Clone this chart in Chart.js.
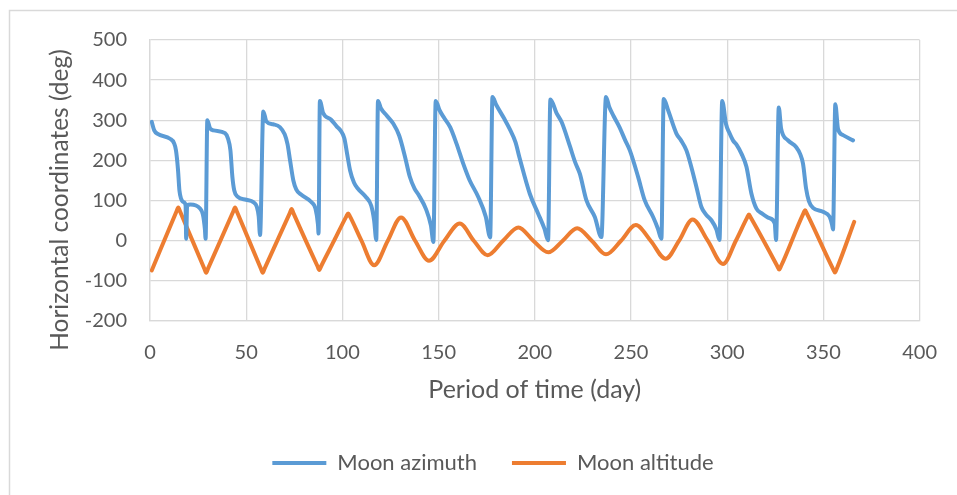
<!DOCTYPE html>
<html>
<head>
<meta charset="utf-8">
<script src="https://cdn.jsdelivr.net/npm/chart.js@4.4.1/dist/chart.umd.min.js"></script>
<style>
  html, body { margin: 0; padding: 0; background: #ffffff; }
  #wrap { width: 957px; height: 495px; position: relative; }
</style>
</head>
<body>
<div id="wrap"><canvas id="c" width="957" height="495"></canvas></div>
<script>
// ---- Data ----
const seriesNames = ['Moon azimuth', 'Moon altitude'];

const azimuthDays = [0.9,2.2,4,10.4,12.5,13.5,14.5,15.3,16.2,17.5,18.5,18.8,19.3,21,26,27.5,28.5,28.9,
  29.8,31.2,33,39,40.5,41.8,42.8,43.8,45.5,50,53.7,55.5,56.5,57.2,
  58.9,60.5,64,67.5,70,71.5,72.8,74.5,76,78.5,83.7,86,87.3,87.6,
  88.3,90,94,97,99,101,102.5,104,106,108,112,115,116.5,117.6,
  118.5,120,123,126.4,129.5,132.5,135,137.5,139.5,143.5,146,147.3,
  148.5,150.5,153,156,159.3,162.8,166,170.5,174.5,176.8,
  178,180,184,187,190,192,197.4,201.7,205,206.9,
  208.1,211.3,214,218.2,221,223.4,226.8,231.2,234.6,
  237,238.7,241,244,247,249.4,253.7,257.1,261.5,264,265.8,
  267,269.3,273.6,276,278.8,281,284,286.6,289,291.8,294.4,296,
  297.4,299.4,301,303,305,307.4,310,312.6,315.2,318,322,324.7,325.4,
  326.8,328,331.6,335.9,338,339.4,341,342.5,344.6,349.8,353.2,354.5,355,
  356.2,357.6,360.2,365.4];
const azimuthValues = [296,275,266,254,243,225,180,125,104,96,88,5,88,90,80,65,30,5,
  300,280,275,268,255,225,160,125,110,102,96,85,60,14,
  322,297,290,283,265,240,200,150,128,115,97,80,40,18,
  348,318,302,285,275,255,215,175,145,130,110,87,50,2,
  348,330,312,292,262,210,160,130,115,78,38,-3,
  348,325,305,283,242,192,152,110,60,8,
  358,338,305,278,245,208,117,68,30,1,
  352,318,295,236,195,167,101,59,9,
  358,333,310,283,250,225,159,101,59,30,5,
  353,325,267,250,225,190,134,84,65,51,28,2,
  348,290,270,250,238,217,184,117,80,68,56,43,2,
  332,280,250,233,215,192,130,98,82,72,60,40,28,
  340,278,263,250];

const altitudeDays = [0.9,13.7,14.7,15.7,28.2,29.2,30.2,43.2,44.2,45.2,57.6,58.6,59.6,72.6,73.6,74.6,87,88,89,
  95.7,102,103,104,109.9,116.5,123.6,130.5,137.8,145,153,161,168.3,175.5,183.5,191.5,199.2,207,214.5,222,
  229.6,237,244.8,252.5,260.2,268,275,282,289.9,297.8,304.5,310.3,311.3,312.3,326,327,328,339.5,340.5,341.5,
  355,356,357,366];
const altitudeValues = [-74,72,83,72,-69,-80,-69,72,83,72,-69,-80,-69,68,79,68,-63,-73,-63,
  0,60,68,60,0,-61,0,58,0,-50,0,43,0,-36,0,33,0,-29,0,31,
  0,-34,0,39,0,-45,0,53,0,-58,0,57,65,57,-63,-72,-63,67,76,67,
  -70,-79,-69,47];

const xTickMin = 0, xTickMax = 400, xTickStep = 50;
const yTickMin = -200, yTickMax = 500, yTickStep = 100;
const xTitle = 'Period of time (day)';
const yTitle = 'Horizontal coordinates (deg)';

// ---- Chart ----
const toPoints = (xs, ys) => xs.map((x, i) => ({ x: x, y: ys[i] }));
const TEXT = '#595959';
const GRID = '#d9d9d9';
const FONT = 'Lato';

const framePlugin = {
  id: 'frameAndYTitle',
  beforeDraw(chart) {
    const ctx = chart.ctx;
    ctx.save();
    ctx.fillStyle = '#ffffff';
    ctx.fillRect(0, 0, chart.width, chart.height);
    ctx.strokeStyle = GRID;
    ctx.lineWidth = 1.5;
    ctx.strokeRect(9.5, 10.5, 1200, 1200);
    ctx.restore();
  },
  afterDraw(chart) {
    const ctx = chart.ctx;
    ctx.save();
    ctx.translate(60, 200);
    ctx.rotate(-Math.PI / 2);
    ctx.font = '24.5px ' + FONT;
    ctx.fillStyle = TEXT;
    ctx.textAlign = 'center';
    ctx.textBaseline = 'middle';
    ctx.fillText(yTitle, 0, 0);
    ctx.restore();
  }
};

new Chart(document.getElementById('c'), {
  type: 'line',
  data: {
    datasets: [
      {
        label: seriesNames[0],
        data: toPoints(azimuthDays, azimuthValues),
        borderColor: '#5B9BD5',
        backgroundColor: '#5B9BD5',
        borderWidth: 4,
        pointRadius: 0,
        cubicInterpolationMode: 'monotone',
        borderCapStyle: 'round',
        borderJoinStyle: 'round',
        fill: false
      },
      {
        label: seriesNames[1],
        data: toPoints(altitudeDays, altitudeValues),
        borderColor: '#ED7D31',
        backgroundColor: '#ED7D31',
        borderWidth: 4,
        pointRadius: 0,
        cubicInterpolationMode: 'monotone',
        borderCapStyle: 'round',
        borderJoinStyle: 'round',
        fill: false
      }
    ]
  },
  options: {
    responsive: false,
    animation: false,
    devicePixelRatio: 1,
    layout: { padding: { top: 40, right: 36, bottom: 11, left: 65 } },
    plugins: {
      legend: {
        display: true,
        position: 'bottom',
        labels: {
          usePointStyle: true,
          pointStyle: 'line',
          pointStyleWidth: 54,
          padding: 35,
          color: TEXT,
          font: { family: FONT, size: 22 }
        }
      },
      tooltip: { enabled: false }
    },
    scales: {
      x: {
        type: 'linear',
        min: xTickMin,
        max: xTickMax,
        ticks: { stepSize: xTickStep, color: TEXT, font: { family: FONT, size: 20 }, padding: 20, maxRotation: 0 },
        grid: { color: GRID, lineWidth: 1.3, drawTicks: false },
        border: { display: true, color: GRID, width: 1.3 },
        title: { display: true, text: xTitle, color: TEXT, font: { family: FONT, size: 25 }, padding: { top: 0, bottom: 12 } },
        afterFit(scale) { scale.height = 96; }
      },
      y: {
        min: yTickMin,
        max: yTickMax,
        ticks: { stepSize: yTickStep, color: TEXT, font: { family: FONT, size: 20 }, padding: 23 },
        grid: { color: GRID, lineWidth: 1.3, drawTicks: false },
        border: { display: true, color: GRID, width: 1.3 },
        afterFit(scale) { scale.width = 85; }
      }
    }
  },
  plugins: [framePlugin]
});
</script>
</body>
</html>
